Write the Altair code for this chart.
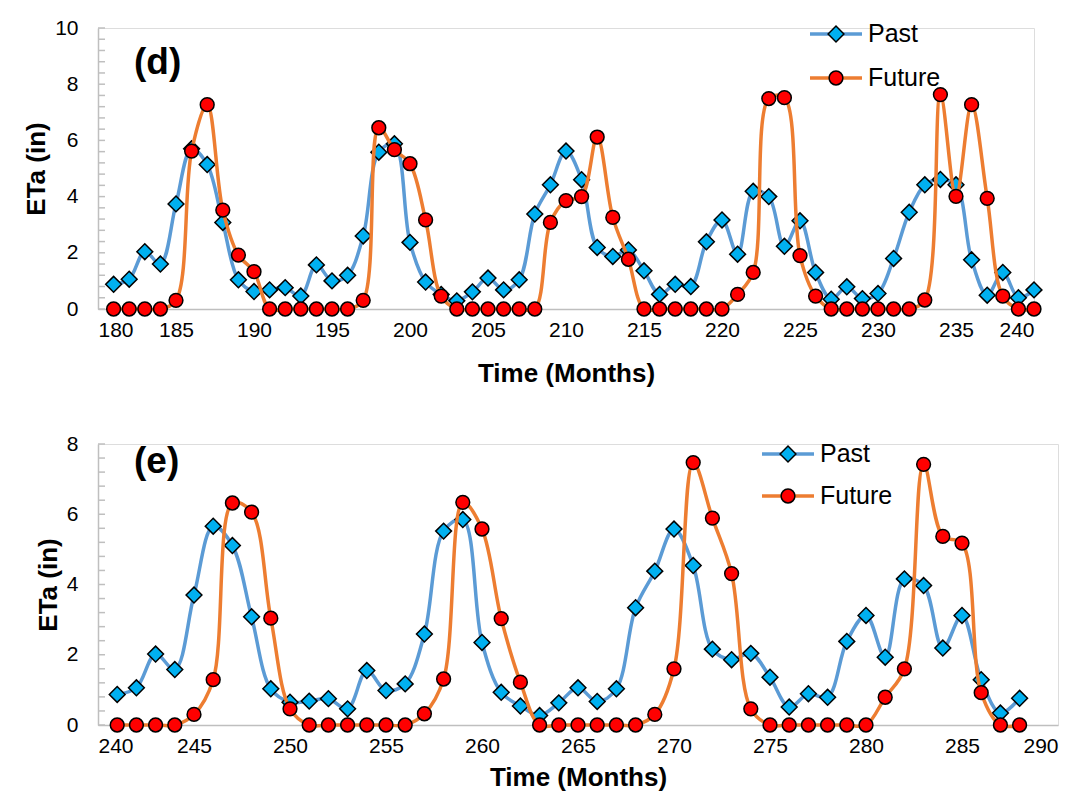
import altair as alt
import pandas as pd

# ---------------- data ----------------
months_d = list(range(181, 241))
past_d = [0.88, 1.06, 2.04, 1.60, 3.74, 5.70, 5.14, 3.08, 1.04, 0.62,
          0.68, 0.76, 0.46, 1.57, 1.00, 1.20, 2.60, 5.58, 5.88, 2.37,
          0.96, 0.52, 0.29, 0.61, 1.10, 0.68, 1.04, 3.38, 4.42, 5.62,
          4.60, 2.19, 1.87, 2.10, 1.36, 0.52, 0.88, 0.80, 2.39, 3.17,
          1.95, 4.19, 4.00, 2.23, 3.14, 1.30, 0.35, 0.79, 0.37, 0.55,
          1.80, 3.44, 4.42, 4.61, 4.42, 1.75, 0.49, 1.30, 0.40, 0.68]
future_d = [0, 0, 0, 0, 0.31, 5.62, 7.27, 3.52, 1.92, 1.33,
            0, 0, 0, 0, 0, 0, 0.31, 6.45, 5.67, 5.17,
            3.17, 0.46, 0, 0, 0, 0, 0, 0, 3.08, 3.86,
            4.00, 6.12, 3.26, 1.77, 0, 0, 0, 0, 0, 0,
            0.52, 1.30, 7.49, 7.52, 1.90, 0.46, 0, 0, 0, 0,
            0, 0, 0.32, 7.63, 4.01, 7.27, 3.94, 0.46, 0, 0]

months_e = list(range(241, 289))
past_e = [0.87, 1.06, 2.02, 1.58, 3.70, 5.66, 5.11, 3.08, 1.03, 0.65,
          0.68, 0.75, 0.46, 1.55, 0.98, 1.17, 2.59, 5.52, 5.85, 2.35,
          0.93, 0.54, 0.27, 0.63, 1.06, 0.67, 1.03, 3.34, 4.38, 5.58,
          4.54, 2.16, 1.86, 2.04, 1.36, 0.51, 0.89, 0.79, 2.38, 3.12,
          1.93, 4.16, 3.97, 2.19, 3.12, 1.29, 0.34, 0.76]
future_e = [0, 0, 0, 0, 0.30, 1.29, 6.32, 6.06, 3.04, 0.46,
            0, 0, 0, 0, 0, 0, 0.32, 1.31, 6.34, 5.58,
            3.03, 1.22, 0, 0, 0, 0, 0, 0, 0.30, 1.60,
            7.47, 5.89, 4.31, 0.46, 0, 0, 0, 0, 0, 0,
            0.79, 1.60, 7.42, 5.37, 5.18, 0.92, 0, 0]

series_names = ["Past", "Future"]
panel_labels = ["(d)", "(e)"]
x_title = "Time (Months)"
y_title = "ETa (in)"
x_ticks_d = list(range(180, 241, 5))
x_ticks_e = list(range(240, 291, 5))
y_labels_d = [0, 2, 4, 6, 8, 10]
y_labels_e = [0, 2, 4, 6, 8]
y_minor_d = [round(i * 0.4, 1) for i in range(26)]
y_minor_e = [round(i * 0.4, 1) for i in range(21)]

# ---------------- style ----------------
FONT = "Liberation Sans"
LINE_COLORS = {"Past": "#5B9BD5", "Future": "#ED7D31"}
FILL_COLORS = {"Past": "#00B0F0", "Future": "#FF0000"}
SHAPES = {"Past": "diamond", "Future": "circle"}
SIZES = {"Past": 250, "Future": 190}
AXIS_GRAY = "#BFBFBF"


def panel(months, past, future, xdom, xticks, ydom, ylabels, yminor, width, height,
          label, label_xy, legend_xy, y_title_pad, x_title_pad):
    df = pd.DataFrame({
        "month": months * 2,
        "value": past + future,
        "series": [series_names[0]] * len(months) + [series_names[1]] * len(months),
    })
    xenc = alt.X("month:Q", scale=alt.Scale(domain=xdom, nice=False, zero=False),
                 axis=alt.Axis(values=xticks, title=x_title, grid=False, ticks=False,
                               domainColor=AXIS_GRAY, domainWidth=1.5,
                               labelFont=FONT, labelFontSize=21, labelColor="black",
                               labelPadding=10, titleFont=FONT, titleFontSize=26,
                               titleFontWeight="bold", titleColor="black",
                               titlePadding=x_title_pad, labelOverlap=False))

    def yenc(field):
        return alt.Y(field, scale=alt.Scale(domain=ydom, nice=False),
                     axis=alt.Axis(values=ylabels, title=y_title, grid=False, ticks=False,
                                   domainColor=AXIS_GRAY, domainWidth=1.5,
                                   labelFont=FONT, labelFontSize=21, labelColor="black",
                                   labelPadding=20, labelOverlap=False,
                                   titleFont=FONT, titleFontSize=26, titleFontWeight="bold",
                                   titleColor="black", titlePadding=y_title_pad))

    layers = []
    # inward tick marks on the value axis
    tdf = pd.DataFrame({"tick": yminor})
    layers.append(alt.Chart(tdf).mark_rule(color=AXIS_GRAY, strokeWidth=1.5).encode(
        y=yenc("tick:Q"), x=alt.value(0), x2=alt.value(7)))
    for name in series_names:
        sub = alt.Chart(df).transform_filter(alt.datum.series == name)
        layers.append(sub.mark_line(color=LINE_COLORS[name], strokeWidth=3.5,
                                    interpolate="catmull-rom").encode(x=xenc, y=yenc("value:Q")))
        layers.append(sub.mark_point(shape=SHAPES[name], filled=True, fill=FILL_COLORS[name],
                                     stroke="black", strokeWidth=1.5, size=SIZES[name],
                                     opacity=1).encode(x=xenc, y=yenc("value:Q")))
    # panel tag
    tag = alt.Chart(pd.DataFrame({"t": [label]})).mark_text(
        font=FONT, fontSize=37, fontWeight="bold", align="left", baseline="middle",
        color="black").encode(x=alt.value(label_xy[0]), y=alt.value(label_xy[1]), text="t:N")
    layers.append(tag)
    # legend
    lx, ly, dy = legend_xy
    for i, name in enumerate(series_names):
        yy = ly + i * dy
        ldf = alt.Chart(pd.DataFrame({"s": [name]}))
        layers.append(ldf.mark_rule(color=LINE_COLORS[name], strokeWidth=3.5).encode(
            x=alt.value(lx), x2=alt.value(lx + 52), y=alt.value(yy)))
        layers.append(ldf.mark_point(shape=SHAPES[name], filled=True, fill=FILL_COLORS[name],
                                     stroke="black", strokeWidth=1.5, size=SIZES[name],
                                     opacity=1).encode(x=alt.value(lx + 26), y=alt.value(yy)))
        layers.append(ldf.mark_text(font=FONT, fontSize=25, align="left", baseline="middle",
                                    color="black").encode(
            x=alt.value(lx + 58), y=alt.value(yy), text="s:N"))
    return alt.layer(*layers).properties(width=width, height=height)


pd_ = panel(months_d, past_d, future_d, [180, 240], x_ticks_d, [0, 10], y_labels_d, y_minor_d,
            936, 281, panel_labels[0], (36, 35), (712, 6, 44), 5, 20)
pe_ = panel(months_e, past_e, future_e, [240, 290], x_ticks_e, [0, 8], y_labels_e, y_minor_e,
            960, 281, panel_labels[1], (36, 18), (664, 10, 42), 5, 8)

chart = alt.vconcat(pd_, pe_, spacing=45).properties(
    padding={"left": 15, "top": 8, "right": 0, "bottom": 0}
).configure_view(strokeWidth=0).configure(background="white")

chart.save("out.html", embed_options={"renderer": "svg", "actions": False})
